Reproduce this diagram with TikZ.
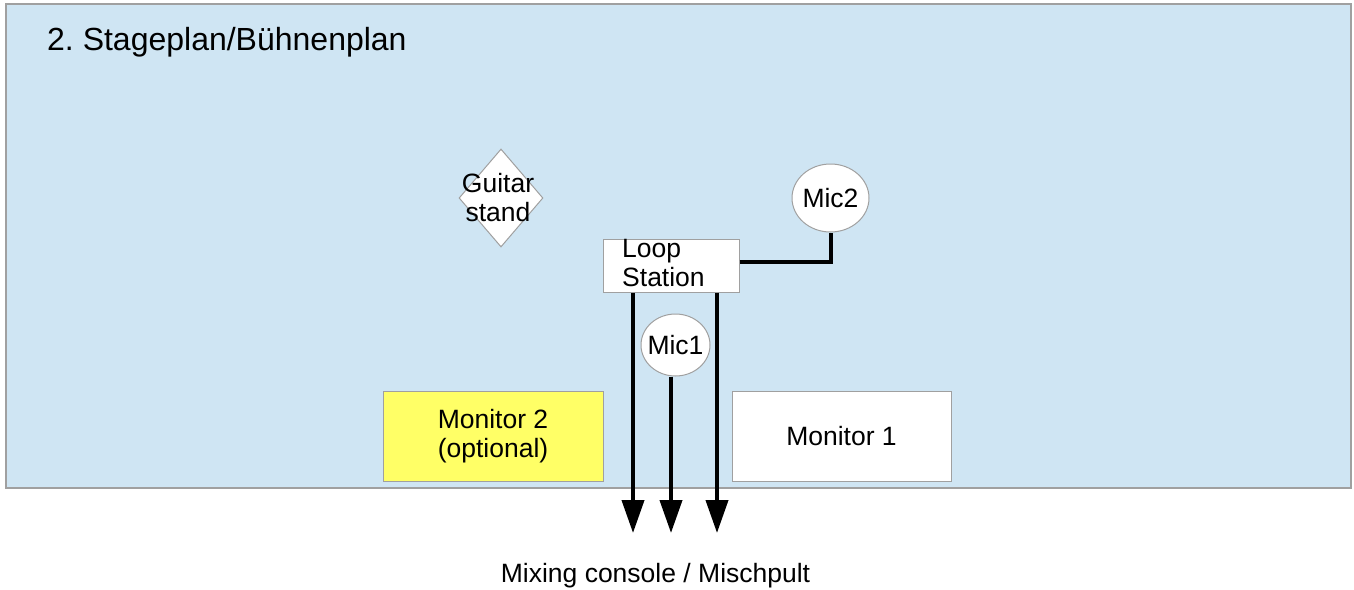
\documentclass[tikz,border=0pt]{standalone}
\usepackage{fontspec}
\setmainfont{Liberation Sans}
\usetikzlibrary{shapes.geometric,arrows.meta}
\definecolor{stagebg}{HTML}{CFE5F3}
\definecolor{edgegray}{HTML}{A0A0A0}
\definecolor{monyellow}{HTML}{FFFF66}
\frenchspacing
\begin{document}
\begin{tikzpicture}[x=1pt,y=-1pt,
  txt/.style={font=\fontsize{26.5}{29}\selectfont, inner sep=0pt},
  objbox/.style={draw=edgegray, line width=1pt, fill=white, inner sep=0pt},
  mic/.style={ellipse, draw=edgegray, line width=1pt, fill=white, inner sep=0pt},
  cable/.style={line width=4pt, draw=black},
  sig/.style={line width=4pt, draw=black, -{Triangle[length=33pt,width=22pt]}}
]
\useasboundingbox (0,0) rectangle (1354,589);
% stage
\node[draw=edgegray, line width=1.5pt, fill=stagebg, minimum width=1345pt, minimum height=484pt, inner sep=0pt] (stage) at (678.5,246) {};
\node[anchor=base west, inner sep=0pt, font=\fontsize{32}{36}\selectfont] (title) at (47,50) {2. Stageplan/Bühnenplan};
% guitar stand
\node[diamond, objbox, minimum width=84pt, minimum height=98pt] (guitar) at (501,198) {};
\node[txt, align=center] (guitartxt) at (498,198) {Guitar\\stand};
% loop station
\node[objbox, minimum width=136pt, minimum height=53pt] (loop) at (671,265.5) {};
\node[txt, anchor=west, align=left] (looptxt) at (622,263.5) {Loop\\Station};
% mics
\node[mic, minimum width=77pt, minimum height=68pt] (mic2) at (830.5,198) {};
\node[txt] (mic2txt) at (830.5,198) {Mic2};
\node[mic, minimum width=69pt, minimum height=62pt] (mic1) at (675.5,345) {};
\node[txt] (mic1txt) at (675.5,345) {Mic1};
% monitors
\node[objbox, fill=monyellow, minimum width=220pt, minimum height=90pt, align=center, font=\fontsize{26.5}{29}\selectfont] (mon2) at (493,436) {Monitor 2\\(optional)};
\node[objbox, minimum width=219pt, minimum height=90pt, font=\fontsize{26.5}{29}\selectfont] (mon1) at (841.5,436) {Monitor 1};
% mixing console
\node[txt, anchor=base] (mix) at (655.5,582) {Mixing console / Mischpult};
% connectors
\coordinate (a1) at (633,533);
\coordinate (a2) at (671,533);
\coordinate (a3) at (717,533);
\draw[cable] ([yshift=3.5pt]loop.east) -| (mic2.south);
\draw[sig] (loop.south -| a1) -- (a1);
\draw[sig] (mic1.south -| a2) -- (a2);
\draw[sig] (loop.south -| a3) -- (a3);
\end{tikzpicture}
\end{document}
